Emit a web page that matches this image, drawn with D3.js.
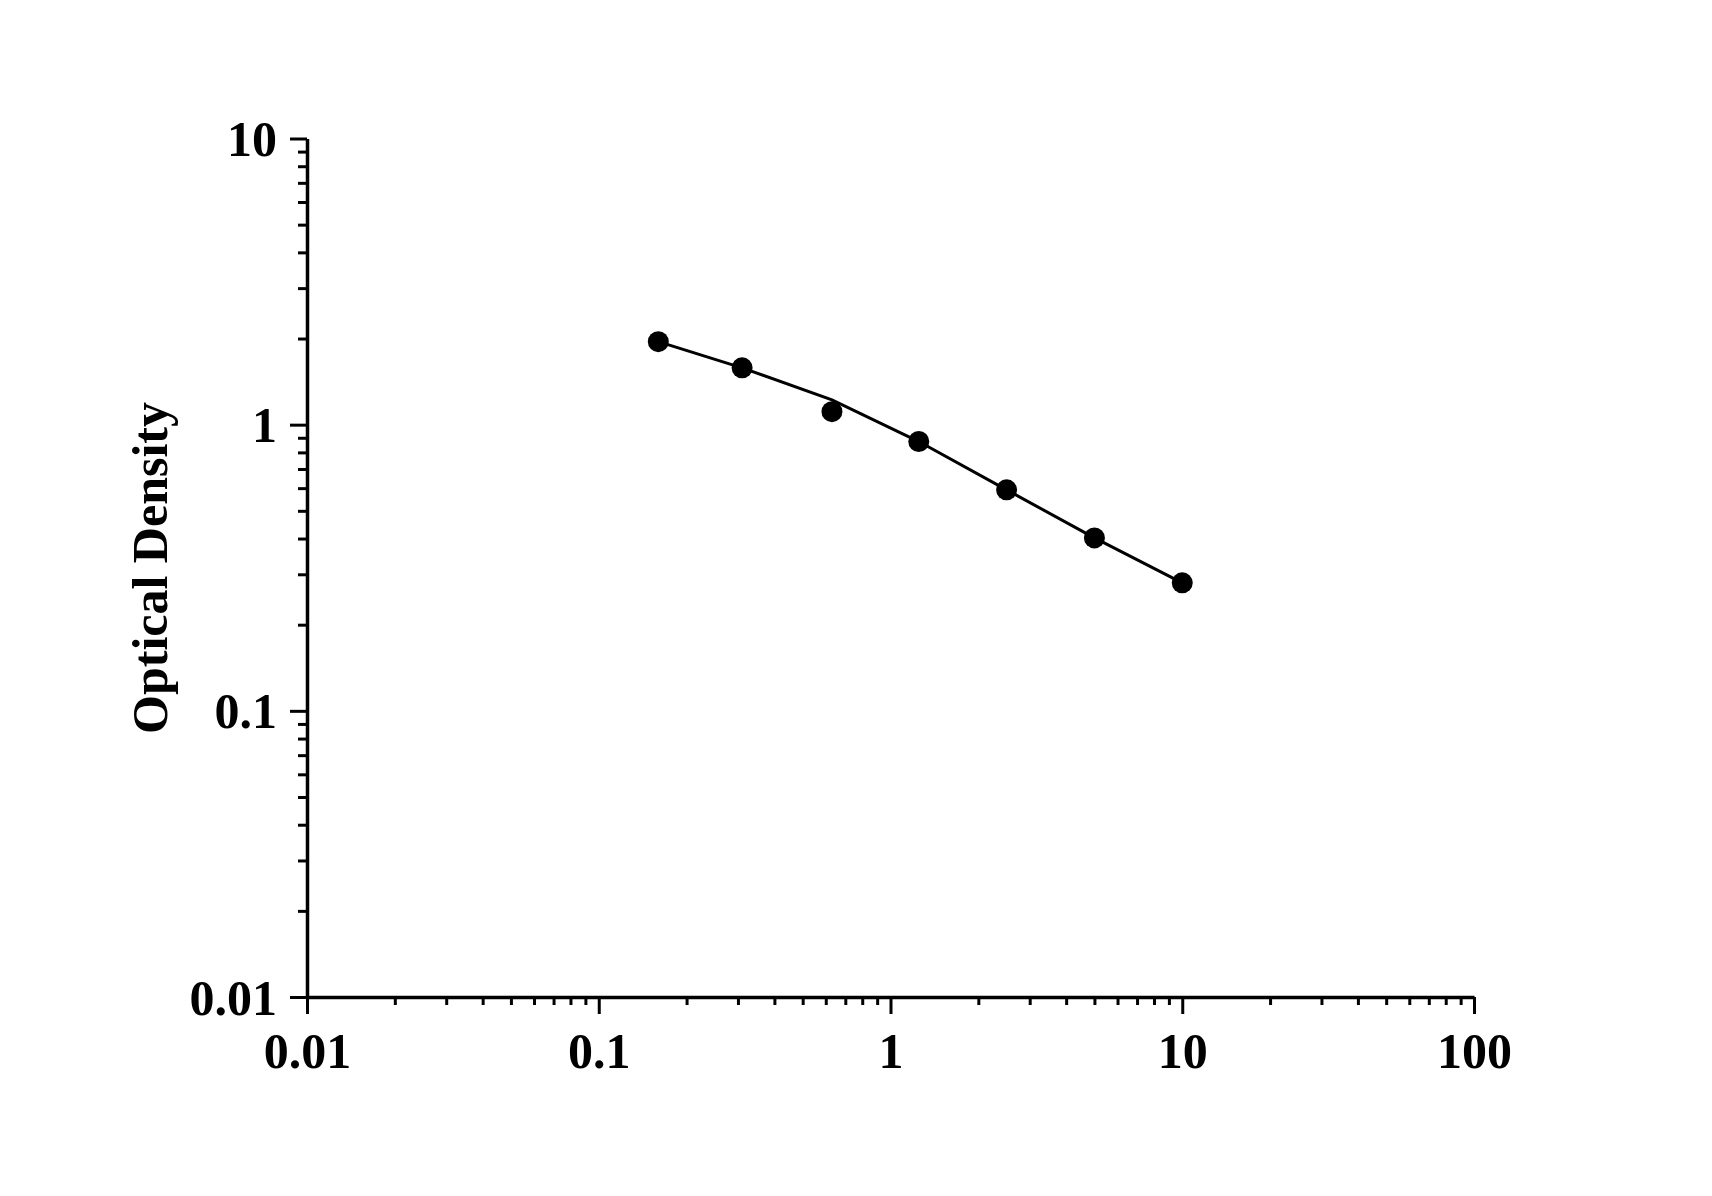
<!DOCTYPE html>
<html>
<head>
<meta charset="utf-8">
<script src="https://cdn.jsdelivr.net/npm/d3@7"></script>
<style>
  body { margin: 0; background: white; }
  text { font-family: "Liberation Serif", "Times New Roman", serif; font-weight: bold; fill: black; }
</style>
</head>
<body>
<div id="container"></div>
<script>
// standard curve, log-log
const concentration = [0.16, 0.31, 0.63, 1.25, 2.5, 5, 10]
const measuredOD = [1.95, 1.58, 1.11, 0.873, 0.592, 0.402, 0.28]
const fittedOD = [1.95, 1.58, 1.22, 0.873, 0.592, 0.402, 0.28]

const xTicks = [0.01, 0.1, 1, 10, 100]
const yTicks = [0.01, 0.1, 1, 10]
const yTitle = "Optical Density"

const w = 1712, h = 1196
const plotLeft = 307, plotRight = 1474, plotTop = 138.5, plotBottom = 997

const svg = d3.select("#container").append("svg").attr("width", w).attr("height", h).style("background-color", "white")

const x = d3.scaleLog().domain([0.01, 100]).range([plotLeft, plotRight])
const y = d3.scaleLog().domain([0.01, 10]).range([plotBottom, plotTop])

// minor ticks: 2..9 in each decade
function minors(domain) {
    const out = []
    for (let p = Math.log10(domain[0]); p < Math.log10(domain[1]); p++)
        for (let k = 2; k <= 9; k++) out.push(k * Math.pow(10, p))
    return out
}

const xMinor = svg.append("g").attr("transform", `translate(0, ${plotBottom})`)
    .call(d3.axisBottom(x).tickValues(minors(x.domain())).tickSize(8).tickSizeOuter(0).tickFormat(""))
const yMinor = svg.append("g").attr("transform", `translate(${plotLeft}, 0)`)
    .call(d3.axisLeft(y).tickValues(minors(y.domain())).tickSize(9).tickSizeOuter(0).tickFormat(""))

const xAxis = svg.append("g").attr("transform", `translate(0, ${plotBottom})`)
    .call(d3.axisBottom(x).tickValues(xTicks).tickSize(17).tickSizeOuter(0).tickFormat(d => String(d)))
const yAxis = svg.append("g").attr("transform", `translate(${plotLeft}, 0)`)
    .call(d3.axisLeft(y).tickValues(yTicks).tickSize(17).tickSizeOuter(0).tickFormat(d => String(d)))

svg.selectAll(".domain").attr("stroke", "black").attr("stroke-width", 3.5)
svg.selectAll(".tick line").attr("stroke", "black").attr("stroke-width", 3)
xMinor.select(".domain").remove()
yMinor.select(".domain").remove()

xAxis.selectAll("text").attr("font-size", 50).attr("y", 71).attr("dy", 0)
    .style("font-family", "Liberation Serif").style("font-weight", "bold")
yAxis.selectAll("text").attr("font-size", 50).attr("x", -30).attr("dy", "0.34em")
    .style("font-family", "Liberation Serif").style("font-weight", "bold")

svg.append("text").attr("text-anchor", "middle").attr("font-size", 50)
    .attr("transform", `translate(167, 568) rotate(-90)`).text(yTitle)

const pts = concentration.map((c, i) => ({ c, od: measuredOD[i], fit: fittedOD[i] }))

svg.append("path").datum(pts)
    .attr("fill", "none").attr("stroke", "black").attr("stroke-width", 3)
    .attr("d", d3.line().x(d => x(d.c)).y(d => y(d.fit)))

svg.selectAll("circle").data(pts).enter().append("circle")
    .attr("cx", d => x(d.c)).attr("cy", d => y(d.od)).attr("r", 10.5).attr("fill", "black")
</script>
</body>
</html>
